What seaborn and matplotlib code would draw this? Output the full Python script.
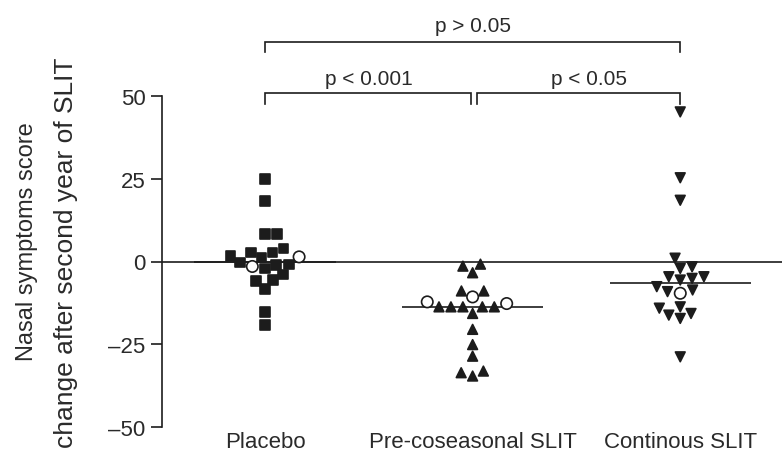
import numpy as np
import pandas as pd
import matplotlib
matplotlib.use("Agg")
import matplotlib.pyplot as plt
from matplotlib.markers import MarkerStyle
import seaborn as sns

# ---------------- data ----------------
categories = ["Placebo", "Pre-coseasonal SLIT", "Continous SLIT"]
group_markers = ["s", "^", "v"]

placebo_filled = [25.0, 18.2, 8.2, 8.2, 3.9, 2.7, 2.7, 1.7, 1.2, -0.3, -0.9,
                  -1.1, -2.1, -3.9, -5.6, -5.9, -8.2, -15.2, -19.2]
placebo_open = [-1.5, 1.4]

pre_filled = [-0.8, -1.4, -3.4, -8.9, -8.9, -13.7, -13.7, -13.7, -13.7, -13.7,
              -15.7, -20.5, -25.1, -28.6, -33.1, -34.6, -33.6]
pre_open = [-12.2, -12.7, -10.7]

cont_filled = [45.2, 25.3, 18.5, 1.0, -1.6, -2.1, -4.6, -4.6, -5.1, -5.6, -7.6,
               -8.6, -9.1, -13.7, -14.1, -15.7, -16.2, -17.2, -28.8]
cont_open = [-9.6]

y_ticks = [-50, -25, 0, 25, 50]
y_tick_labels = ["\u201350", "\u201325", "0", "25", "50"]
y_label_1 = "Nasal symptoms score"
y_label_2 = "change after second year of SLIT"

comparisons = [(0, 2, "p > 0.05"), (0, 1, "p < 0.001"), (1, 2, "p < 0.05")]

filled = [placebo_filled, pre_filled, cont_filled]
opened = [placebo_open, pre_open, cont_open]

rows = []
for cat, f_vals, o_vals in zip(categories, filled, opened):
    for v in o_vals:
        rows.append((cat, v, "open"))
    for v in f_vals:
        rows.append((cat, v, "filled"))
df = pd.DataFrame(rows, columns=["group", "value", "kind"])

# ---------------- style ----------------
plt.rcParams["font.family"] = ["Liberation Sans", "DejaVu Sans"]
INK = "#1c1c1c"
TXT = "#2a2a2a"

fig = plt.figure(figsize=(7.82, 4.56), dpi=100)
ax = fig.add_axes([162 / 782, 28 / 456, 620 / 782, 331 / 456])


def marker_path(m):
    ms = MarkerStyle(m)
    return ms.get_path().transformed(ms.get_transform())


base_size = 7.0
circle_size = 8.2

for i, (cat, mk) in enumerate(zip(categories, group_markers)):
    sub = df[df["group"] == cat].reset_index(drop=True)
    n_before = len(ax.collections)
    sns.swarmplot(data=sub, x="group", y="value", order=categories, ax=ax,
                  color=INK, marker=mk, size=base_size, linewidth=1.2,
                  edgecolor=INK)
    new = [c for c in ax.collections[n_before:]
           if c.get_offsets().shape[0] == len(sub)]
    coll = new[0]
    is_open = (sub["kind"] == "open").to_numpy()
    coll.set_paths([marker_path("o") if o else marker_path(mk) for o in is_open])
    coll.set_sizes(np.where(is_open, circle_size ** 2, base_size ** 2))
    coll.set_facecolors(["white" if o else INK for o in is_open])
    coll.set_edgecolor(INK)
    coll.set_linewidth(1.2)
    coll.set_zorder(3)

    med = np.median(sub["value"])
    ax.hlines(med, i - 0.34, i + 0.34, color=INK, lw=1.2, zorder=2)

# zero line
ax.axhline(0, color=INK, lw=1.2, zorder=2)

ax.set_ylim(-50, 50)
ax.set_xlim(-0.496, 2.49)
ax.set_yticks(y_ticks)
ax.set_yticklabels(y_tick_labels)
ax.set_xticks(range(len(categories)))
ax.set_xticklabels(categories)
ax.set_xlabel("")
ax.set_ylabel("")

for s in ["top", "right", "bottom"]:
    ax.spines[s].set_visible(False)
ax.spines["left"].set_linewidth(1.2)
ax.spines["left"].set_color(INK)
ax.tick_params(axis="y", length=8, width=1.2, color=INK, pad=4,
               labelsize=16, labelcolor=TXT)
ax.tick_params(axis="x", length=0, pad=3, labelsize=16, labelcolor=TXT)
ax.patch.set_alpha(0)

# y label (two lines as in the reference)
fig.text(27 / 782, 1 - 242 / 456, y_label_1, rotation=90, ha="center",
         va="center", fontsize=17, color=TXT)
fig.text(66 / 782, 1 - 58 / 456, y_label_2, rotation=90, ha="center",
         va="top", fontsize=19, color=TXT)

# significance brackets
levels = {(0, 2): (66.2, 63.4, 71.2, 1.0),
          (0, 1): (50.8, 47.7, 55.2, 0.5),
          (1, 2): (50.8, 47.7, 55.2, 1.56)}
for a, b, label in comparisons:
    top, tip, ty, tx = levels[(a, b)]
    xa = a + (0.02 if a == 1 else 0.0)
    xb = b - (0.01 if b == 1 else 0.0)
    ax.plot([xa, xa, xb, xb], [tip, top, top, tip], color=INK, lw=1.2,
            clip_on=False, solid_joinstyle="miter")
    ax.text(tx, ty, label, ha="center", va="center", fontsize=15,
            color=TXT, clip_on=False)

fig.savefig("out.png", dpi=100)
